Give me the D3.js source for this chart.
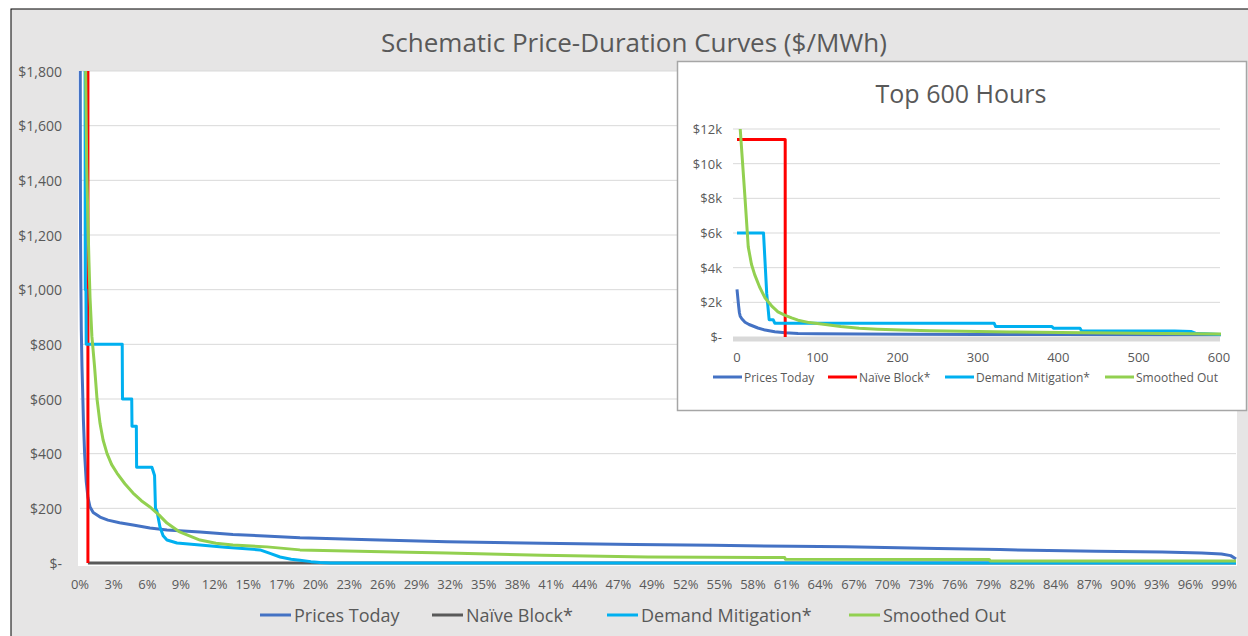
<!DOCTYPE html>
<html>
<head>
<meta charset="utf-8">
<script src="https://d3js.org/d3.v7.min.js"></script>
<style>
  body { margin: 0; background: #fff; }
  svg text { font-family: "Open Sans", "Noto Sans", sans-serif; fill: #595959; }
</style>
</head>
<body>
<svg id="chart" width="1248" height="636"></svg>
<script>
// ---- data (hour of year, $/MWh) ----
const pricesToday = [[0,2750],[2,1800],[3,1400],[4,1200],[6,1050],[10,850],[15,720],[19,650],[26,520],[35,400],[47,300],[60,240],[76,205],[100,185],[152,168],[212,157],[300,147],[402,139],[530,128],[659,121],[909,113],[1159,104],[1400,99],[1667,92],[2200,85],[2781,78],[3500,72],[4200,68],[4797,65],[5400,61],[5800,59],[6500,53],[6972,49],[7700,43],[8200,40],[8500,37],[8650,33],[8720,27],[8760,15]];
const naiveBlock = [[0,11400],[60,11400],[60,0],[8760,0]];
const demandMitigation = [[0,6000],[33,6000],[37,2500],[40,1000],[45,1000],[47,800],[320,800],[322,600],[392,600],[394,500],[427,500],[429,350],[545,350],[565,320],[572,200],[583,190],[606,132],[630,100],[659,84],[735,73],[909,66],[1100,58],[1364,48],[1440,35],[1516,22],[1600,14],[1667,10],[1750,5],[1819,2],[1900,0],[8760,0]];
const smoothedOut = [[0,13500],[4,12000],[7,10000],[10,8000],[14,5200],[18,4200],[22,3600],[28,2900],[35,2250],[43,1800],[51,1450],[60,1250],[68,1100],[76,970],[90,830],[110,720],[129,600],[152,510],[175,450],[205,400],[240,360],[280,329],[340,290],[402,256],[465,228],[530,205],[600,175],[659,146],[750,115],[909,84],[1030,72],[1159,66],[1417,59],[1667,48],[2200,42],[2781,37],[3500,28],[4300,22],[5340,20],[5345,14],[6890,13],[6900,7],[8760,7]];

const seriesNames = ['Prices Today', 'Naïve Block*', 'Demand Mitigation*', 'Smoothed Out'];
const seriesColors = ['#4472C4', '#FF0000', '#00B0F0', '#92D050'];
const naiveMainColor = '#595959';

const mainYTicks = [0, 200, 400, 600, 800, 1000, 1200, 1400, 1600, 1800];
const mainXTickLabels = ['0%','3%','6%','9%','12%','15%','17%','20%','23%','26%','29%','32%','35%','38%','41%','44%','47%','49%','52%','55%','58%','61%','64%','67%','70%','73%','76%','79%','82%','84%','87%','90%','93%','96%','99%'];
const mainXTickEvery = 255; // hours between category labels
const hoursInYear = 8760;

const insetYTicks = [0, 2000, 4000, 6000, 8000, 10000, 12000];
const insetXTicks = [0, 100, 200, 300, 400, 500, 600];

// ---- drawing ----
const svg = d3.select('#chart');
const allSeries = [pricesToday, naiveBlock, demandMitigation, smoothedOut];

// chart background
svg.append('rect').attr('x', 11).attr('y', 9).attr('width', 1250).attr('height', 640)
  .attr('fill', '#e6e5e5').attr('stroke', '#000').attr('stroke-width', 1);

svg.append('text').attr('x', 634).attr('y', 42).attr('text-anchor', 'middle')
  .attr('dominant-baseline', 'central').attr('font-size', 26)
  .text('Schematic Price-Duration Curves ($/MWh)');

// main plot
const x = d3.scaleLinear().domain([0, hoursInYear]).range([80, 1236]);
const y = d3.scaleLinear().domain([0, 1800]).range([563, 71]);

svg.append('rect').attr('x', 78).attr('y', 71).attr('width', 1159).attr('height', 495).attr('fill', '#fff');

svg.append('g').selectAll('line').data(mainYTicks.slice(1)).join('line')
  .attr('x1', 80).attr('x2', 1236).attr('y1', d => y(d)).attr('y2', d => y(d))
  .attr('stroke', '#d9d9d9').attr('stroke-width', 1);

svg.append('g').selectAll('text').data(mainYTicks).join('text')
  .attr('x', 62).attr('y', d => y(d)).attr('text-anchor', 'end')
  .attr('dominant-baseline', 'central').attr('font-size', 14)
  .text(d => d === 0 ? '$-' : d3.format('$,')(d));

svg.append('g').selectAll('text').data(mainXTickLabels).join('text')
  .attr('x', (d, i) => x(i * mainXTickEvery)).attr('y', 584).attr('text-anchor', 'middle')
  .attr('dominant-baseline', 'central').attr('font-size', 13)
  .text(d => d);

svg.append('clipPath').attr('id', 'clipMain').append('rect')
  .attr('x', 78).attr('y', 71).attr('width', 1159).attr('height', 496);

const mainLine = d3.line().x(d => x(d[0])).y(d => y(d[1]));
const gMain = svg.append('g').attr('clip-path', 'url(#clipMain)');
const naiveHead = naiveBlock.filter(d => d[0] <= 60);
const naiveTail = naiveBlock.filter(d => d[1] === 0);

function drawLine(g, data, color, gen) {
  g.append('path').attr('d', gen(data)).attr('fill', 'none').attr('stroke', color)
    .attr('stroke-width', 3).attr('stroke-linejoin', 'round');
}
drawLine(gMain, pricesToday, seriesColors[0], mainLine);
drawLine(gMain, naiveTail, naiveMainColor, mainLine);
drawLine(gMain, naiveHead, seriesColors[1], mainLine);
drawLine(gMain, demandMitigation, seriesColors[2], mainLine);
drawLine(gMain, smoothedOut, seriesColors[3], mainLine);

// main legend
const mainLegendX = [260, 432, 607, 849];
const mainLegendColors = [seriesColors[0], naiveMainColor, seriesColors[2], seriesColors[3]];
const lg = svg.append('g').selectAll('g').data(seriesNames).join('g')
  .attr('transform', (d, i) => `translate(${mainLegendX[i]},615)`);
lg.append('line').attr('x1', 0).attr('x2', 31).attr('stroke', (d, i) => mainLegendColors[i]).attr('stroke-width', 3);
lg.append('text').attr('x', 34).attr('dominant-baseline', 'central').attr('font-size', 18).text(d => d);

// ---- inset: top 600 hours ----
svg.append('rect').attr('x', 677.5).attr('y', 61.5).attr('width', 569).attr('height', 349)
  .attr('fill', '#fff').attr('stroke', '#a6a6a6').attr('stroke-width', 1.5);

svg.append('text').attr('x', 961).attr('y', 93).attr('text-anchor', 'middle')
  .attr('dominant-baseline', 'central').attr('font-size', 25).text('Top 600 Hours');

const xi = d3.scaleLinear().domain([0, 600]).range([737, 1219]);
const yi = d3.scaleLinear().domain([0, 12000]).range([337, 129]);

svg.append('g').selectAll('line').data(insetYTicks.slice(1)).join('line')
  .attr('x1', 733).attr('x2', 1220).attr('y1', d => yi(d)).attr('y2', d => yi(d))
  .attr('stroke', '#d9d9d9').attr('stroke-width', 1);

svg.append('line').attr('x1', 733).attr('x2', 1220).attr('y1', yi(0) + 2).attr('y2', yi(0) + 2)
  .attr('stroke', '#d9d9d9').attr('stroke-width', 5);

svg.append('g').selectAll('text').data(insetYTicks).join('text')
  .attr('x', 722).attr('y', d => yi(d)).attr('text-anchor', 'end')
  .attr('dominant-baseline', 'central').attr('font-size', 13)
  .text(d => d === 0 ? '$-' : '$' + (d / 1000) + 'k');

svg.append('g').selectAll('text').data(insetXTicks).join('text')
  .attr('x', d => xi(d)).attr('y', 357).attr('text-anchor', 'middle')
  .attr('dominant-baseline', 'central').attr('font-size', 13)
  .text(d => d);

svg.append('clipPath').attr('id', 'clipInset').append('rect')
  .attr('x', 735).attr('y', 129).attr('width', 486).attr('height', 212);

const insetLine = d3.line().x(d => xi(d[0])).y(d => yi(d[1]));
const gInset = svg.append('g').attr('clip-path', 'url(#clipInset)');
allSeries.forEach((s, i) => {
  drawLine(gInset, s.filter(d => d[0] <= 700), seriesColors[i], insetLine);
});

const insetLegendX = [713, 828, 945, 1105];
const ig = svg.append('g').selectAll('g').data(seriesNames).join('g')
  .attr('transform', (d, i) => `translate(${insetLegendX[i]},377)`);
ig.append('line').attr('x1', 0).attr('x2', 29).attr('stroke', (d, i) => seriesColors[i]).attr('stroke-width', 3);
ig.append('text').attr('x', 31).attr('dominant-baseline', 'central').attr('font-size', 12).text(d => d);
</script>
</body>
</html>
